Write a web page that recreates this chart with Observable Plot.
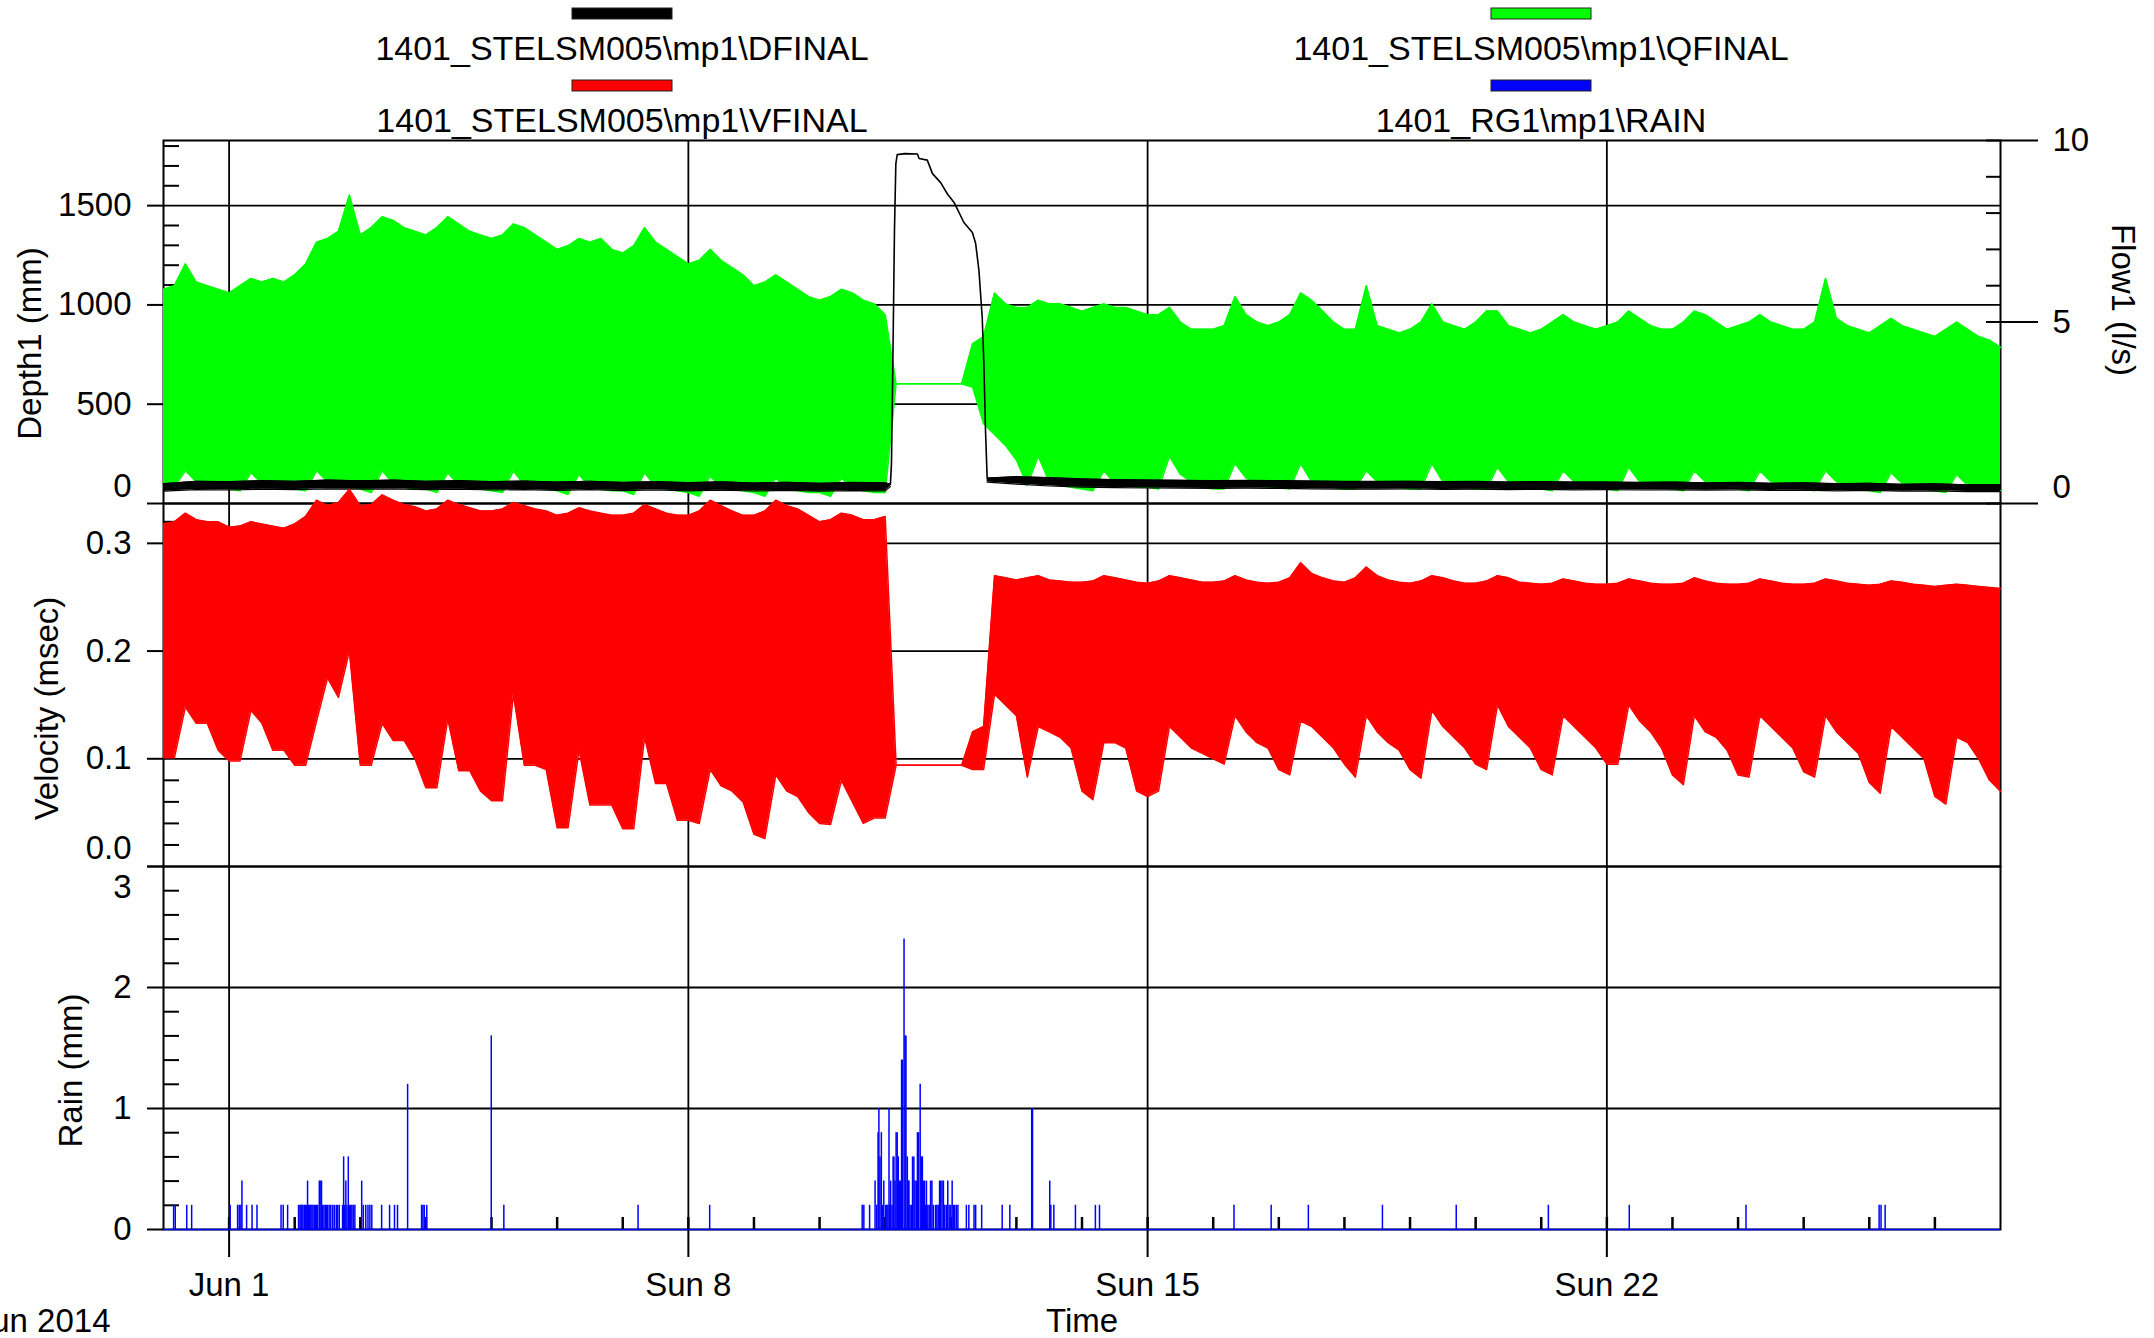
<!DOCTYPE html>
<html>
<head>
<meta charset="utf-8">
<script src="https://cdn.jsdelivr.net/npm/d3@7"></script>
<script src="https://cdn.jsdelivr.net/npm/@observablehq/plot@0.6"></script>
<style>
html, body { margin: 0; padding: 0; background: #fff; }
#chart { position: relative; width: 2154px; height: 1338px; overflow: hidden; background: #fff; }
#chart svg { position: absolute; left: 0; top: 0; overflow: visible; }
</style>
</head>
<body>
<div id="chart"></div>
<script>
// ---------------- DATA ----------------
const legendNames = ["1401_STELSM005\\mp1\\DFINAL", "1401_STELSM005\\mp1\\QFINAL", "1401_STELSM005\\mp1\\VFINAL", "1401_RG1\\mp1\\RAIN"];
const legendColors = ["#000000", "#00ff00", "#ff0000", "#0000ff"];

// x axis: hours since 31 May 2014 00:00
const xTickHours = [24, 192, 360, 528];
const xTickLabels = ["Jun 1", "Sun 8", "Sun 15", "Sun 22"];
const dayTickHours = [24,48,72,96,120,144,168,192,216,240,264,288,312,336,360,384,408,432,456,480,504,528,552,576,600,624,648];

// Sample spacing of the envelope series (hours)
const sampleStep = 4;

// Flow (l/s) upper / lower envelope, one row per day, samples at 0,4,8,12,16,20 h
const flowMax = [
  5.9,6.0,6.6,6.1,6.0,5.9,
  5.8,6.0,6.2,6.1,6.2,6.1,
  6.3,6.6,7.2,7.3,7.5,8.5,
  7.4,7.6,7.9,7.8,7.6,7.5,
  7.4,7.6,7.9,7.7,7.5,7.4,
  7.3,7.4,7.7,7.6,7.4,7.2,
  7.0,7.1,7.3,7.2,7.3,7.0,
  6.9,7.1,7.6,7.2,7.0,6.8,
  6.6,6.7,7.0,6.7,6.5,6.3,
  6.0,6.1,6.3,6.1,5.9,5.7,
  5.6,5.7,5.9,5.8,5.6,5.5,
  5.2,3.3,3.3,3.3,3.3,3.3,
  3.3,3.3,4.4,4.6,5.8,5.5,
  5.4,5.4,5.6,5.5,5.5,5.4,
  5.3,5.4,5.5,5.4,5.4,5.3,
  5.2,5.2,5.4,5.0,4.8,4.8,
  4.8,4.9,5.7,5.2,5.0,4.9,
  5.0,5.2,5.8,5.6,5.3,5.0,
  4.8,4.8,6.0,4.9,4.8,4.7,
  4.8,5.0,5.5,5.0,4.9,4.8,
  5.0,5.3,5.3,4.9,4.8,4.7,
  4.8,5.0,5.2,5.0,4.9,4.8,
  4.9,5.0,5.3,5.1,4.9,4.8,
  4.8,5.0,5.3,5.2,5.0,4.8,
  4.9,5.0,5.2,5.0,4.9,4.8,
  4.8,5.0,6.2,5.1,4.9,4.8,
  4.7,4.9,5.1,4.9,4.8,4.7,
  4.6,4.8,5.0,4.8,4.6,4.5,
  4.3
];
const flowMin = [
  0.5,0.45,0.9,0.6,0.5,0.45,
  0.4,0.35,0.85,0.55,0.45,0.4,
  0.4,0.35,0.9,0.6,0.5,0.6,
  0.4,0.3,0.9,0.55,0.45,0.4,
  0.4,0.3,0.85,0.5,0.45,0.4,
  0.35,0.3,0.9,0.5,0.45,0.4,
  0.35,0.25,0.8,0.45,0.4,0.35,
  0.35,0.25,0.85,0.45,0.4,0.35,
  0.3,0.2,0.75,0.45,0.4,0.35,
  0.3,0.2,0.7,0.4,0.35,0.3,
  0.3,0.2,0.7,0.4,0.35,0.3,
  0.3,3.3,3.3,3.3,3.3,3.3,
  3.3,3.3,3.2,2.2,1.9,1.6,
  1.2,0.5,1.3,0.6,0.5,0.45,
  0.4,0.35,0.9,0.55,0.5,0.45,
  0.45,0.4,1.3,0.8,0.6,0.45,
  0.4,0.4,1.1,0.7,0.55,0.45,
  0.45,0.4,1.1,0.6,0.5,0.45,
  0.4,0.4,0.9,0.6,0.5,0.45,
  0.4,0.4,1.1,0.6,0.5,0.45,
  0.4,0.4,1.0,0.6,0.5,0.45,
  0.4,0.35,0.9,0.6,0.5,0.45,
  0.4,0.35,1.0,0.6,0.5,0.45,
  0.4,0.35,0.9,0.6,0.5,0.45,
  0.4,0.35,0.9,0.6,0.5,0.45,
  0.4,0.35,0.9,0.6,0.5,0.45,
  0.35,0.3,0.85,0.55,0.45,0.4,
  0.35,0.3,0.8,0.5,0.45,0.4,
  0.35
];

// Velocity (m/s) upper / lower envelope
const velMax = [
  0.318,0.32,0.328,0.322,0.32,0.32,
  0.315,0.316,0.32,0.318,0.316,0.314,
  0.318,0.325,0.34,0.335,0.338,0.35,
  0.335,0.336,0.345,0.34,0.336,0.334,
  0.33,0.332,0.34,0.336,0.333,0.33,
  0.33,0.332,0.338,0.335,0.332,0.33,
  0.326,0.328,0.333,0.33,0.328,0.326,
  0.326,0.328,0.336,0.332,0.328,0.326,
  0.326,0.33,0.34,0.335,0.33,0.326,
  0.326,0.33,0.34,0.335,0.332,0.326,
  0.32,0.322,0.328,0.326,0.322,0.322,
  0.325,0.094,0.094,0.094,0.094,0.094,
  0.094,0.094,0.125,0.13,0.27,0.268,
  0.266,0.268,0.27,0.266,0.265,0.264,
  0.264,0.265,0.27,0.268,0.266,0.264,
  0.263,0.265,0.27,0.268,0.266,0.264,
  0.264,0.265,0.27,0.266,0.264,0.263,
  0.264,0.268,0.282,0.272,0.268,0.265,
  0.264,0.268,0.278,0.27,0.266,0.264,
  0.263,0.265,0.27,0.268,0.265,0.263,
  0.263,0.265,0.27,0.268,0.264,0.263,
  0.262,0.263,0.267,0.265,0.263,0.262,
  0.262,0.263,0.267,0.265,0.263,0.262,
  0.262,0.263,0.268,0.265,0.263,0.262,
  0.262,0.263,0.267,0.265,0.263,0.262,
  0.262,0.263,0.267,0.265,0.263,0.262,
  0.261,0.262,0.265,0.264,0.262,0.261,
  0.26,0.261,0.262,0.261,0.26,0.259,
  0.258
];
const velMin = [
  0.101,0.101,0.148,0.133,0.133,0.108,
  0.098,0.098,0.145,0.133,0.108,0.108,
  0.094,0.094,0.135,0.175,0.157,0.2,
  0.094,0.094,0.133,0.117,0.117,0.1,
  0.073,0.073,0.137,0.089,0.089,0.07,
  0.061,0.061,0.16,0.094,0.094,0.09,
  0.036,0.036,0.108,0.057,0.057,0.057,
  0.035,0.035,0.12,0.077,0.077,0.043,
  0.043,0.04,0.09,0.075,0.07,0.06,
  0.03,0.026,0.085,0.07,0.065,0.05,
  0.04,0.039,0.08,0.06,0.04,0.045,
  0.045,0.094,0.094,0.094,0.094,0.094,
  0.094,0.094,0.09,0.09,0.16,0.15,
  0.14,0.083,0.13,0.125,0.12,0.11,
  0.07,0.062,0.115,0.115,0.11,0.07,
  0.065,0.07,0.13,0.12,0.11,0.105,
  0.1,0.095,0.14,0.125,0.115,0.11,
  0.09,0.085,0.135,0.13,0.12,0.11,
  0.095,0.083,0.14,0.125,0.115,0.108,
  0.09,0.082,0.145,0.13,0.12,0.11,
  0.095,0.09,0.15,0.13,0.12,0.11,
  0.09,0.085,0.14,0.13,0.12,0.11,
  0.095,0.095,0.15,0.135,0.125,0.11,
  0.085,0.076,0.14,0.125,0.12,0.108,
  0.085,0.083,0.14,0.13,0.12,0.11,
  0.088,0.083,0.14,0.125,0.115,0.105,
  0.078,0.068,0.13,0.12,0.11,0.1,
  0.065,0.058,0.12,0.115,0.1,0.08,
  0.07
];

// Depth (mm) band: hours, low, high (NaN = gap during the surcharge)
const depthHours = [0,12,24,36,48,60,72,84,96,108,120,132,144,156,168,180,192,204,216,228,240,252,264,265.9,
  283,
  301.3,312,324,336,348,360,372,384,396,408,420,432,444,456,468,480,492,504,516,528,540,552,564,576,588,600,612,624,636,648,660,672];
const depthLo = [62,70,68,72,70,74,72,74,70,72,68,70,66,70,65,68,64,67,63,66,62,65,64,85,
  NaN,
  108,98,88,82,80,78,77,76,77,76,74,72,72,73,71,72,70,71,69,70,68,69,67,68,66,67,64,66,62,64,60,60];
const depthHi = [100,112,110,115,112,118,114,118,112,115,110,113,108,112,106,110,105,109,103,107,102,106,104,98,
  NaN,
  128,135,130,124,120,118,117,115,116,115,113,111,111,112,110,111,108,110,108,108,106,108,104,106,102,104,100,102,97,99,94,94];

// Depth during the surcharge (hours, mm)
const surgeHours = [265.9,266.3,266.8,267.4,267.9,268.4,271.2,275.8,276.4,279.4,281.3,284.3,286.7,289.2,292.8,295.9,297.1,298.3,299.5,300.1,300.7,301.3];
const surgeDepth = [95,201,703,1375,1710,1757,1762,1760,1737,1729,1661,1616,1560,1516,1415,1365,1309,1173,937,705,368,131];

// Rain (mm) tips: hours and depth
const rainHours = [3.7,4.3,8.5,10.3,24.4,27.1,27.7,28.3,28.7,30.4,32.4,34.2,43.0,43.8,45.4,
  49.4,49.9,50.3,50.6,51.0,51.5,51.9,52.2,52.7,53.1,53.4,53.9,54.3,54.7,55.2,55.6,56.0,56.4,57.0,57.3,57.8,58.2,58.7,59.2,59.7,60.0,60.6,61.2,61.9,62.5,63.2,63.7,64.3,65.5,65.9,66.2,66.7,67.1,67.6,68.0,68.4,68.9,69.4,70.0,
  72.5,73.1,74.0,74.8,75.5,76.2,79.8,82.7,84.5,85.6,89.3,94.4,94.9,95.4,96.3,119.9,124.5,173.6,199.8,
  255.6,256.2,258.3,260.3,260.9,261.4,261.7,262.1,262.6,263.1,263.5,264.2,264.6,265.0,265.4,265.7,266.0,266.5,266.9,267.2,267.6,268.0,268.4,268.8,269.2,269.6,
  270.0,270.3,270.9,271.3,271.6,272.1,272.4,272.7,273.1,273.6,274.0,274.5,274.9,275.4,275.8,276.2,276.8,277.2,277.6,278.0,278.4,278.8,279.1,279.6,
  280.1,280.6,281.1,281.6,282.4,282.9,283.4,283.9,284.3,284.8,285.3,285.8,286.4,286.9,287.4,288.0,288.5,289.0,289.4,290.0,290.6,
  293.7,294.6,296.5,297.1,299.3,306.8,309.6,317.6,317.9,324.2,324.6,325.7,333.6,340.9,342.4,
  391.6,405.2,418.8,445.9,472.9,506.6,536.2,578.9,627.6,628.3,629.8];
const rainMM = [0.2,0.2,0.2,0.2,0.2,0.2,0.2,0.2,0.4,0.2,0.2,0.2,0.2,0.2,0.2,
  0.2,0.2,0.2,0.2,0.2,0.2,0.2,0.2,0.4,0.2,0.2,0.2,0.2,0.2,0.2,0.2,0.2,0.2,0.4,0.4,0.4,0.2,0.2,0.2,0.2,0.2,0.2,0.2,0.2,0.2,0.2,0.2,0.2,0.2,0.6,0.2,0.4,0.2,0.6,0.2,0.2,0.2,0.2,0.2,
  0.4,0.2,0.2,0.2,0.2,0.2,0.2,0.2,0.2,0.2,1.2,0.2,0.2,0.2,0.2,1.6,0.2,0.2,0.2,
  0.2,0.2,0.2,0.4,0.2,0.8,1.0,0.6,0.8,0.2,0.4,0.2,0.2,0.2,1.0,0.2,0.4,0.2,0.6,0.6,0.4,0.8,0.8,0.6,0.4,0.4,
  1.4,1.4,2.4,1.6,1.6,0.6,0.4,0.4,0.2,0.2,0.6,0.6,0.4,0.4,0.8,0.8,1.2,0.6,0.6,0.4,0.4,0.2,0.4,0.2,
  0.2,0.4,0.4,0.2,0.2,0.2,0.2,0.4,0.4,0.4,0.4,0.2,0.2,0.4,0.2,0.2,0.4,0.2,0.2,0.2,0.2,
  0.2,0.2,0.2,0.2,0.2,0.2,0.2,1.0,1.0,0.4,0.2,0.2,0.2,0.2,0.2,
  0.2,0.2,0.2,0.2,0.2,0.2,0.2,0.2,0.2,0.2,0.2];

// Axis ticks
const depthMajor = [0, 500, 1000, 1500];
const depthMinor = [100,200,300,400,600,700,800,900,1100,1200,1300,1400,1600,1700,1800];
const flowMajor = [0, 5, 10];
const flowAll = [0,1,2,3,4,5,6,7,8,9,10];
const velMajor = [0, 0.1, 0.2, 0.3];
const velMinor = [0.02,0.04,0.06,0.08,0.12,0.14,0.16,0.18,0.22,0.24,0.26,0.28,0.32];
const rainMajor = [0, 1, 2, 3];
const rainMinor = [0.2,0.4,0.6,0.8,1.2,1.4,1.6,1.8,2.2,2.4,2.6,2.8];

// ---------------- BUILD ----------------
const FONT = "'Liberation Sans', Arial, Helvetica, sans-serif";
const W = 2154, H = 1338, LEFT = 163, RIGHT = 2000;
const TOP1 = 140, BOT1 = 503, BOT2 = 866, BOT3 = 1229;
const t0 = Date.UTC(2014, 4, 31), HOUR = 3600e3;
const toDate = h => new Date(t0 + h * HOUR);
const xDomain = [toDate(0), toDate(672)];

const sampleTimes = flowMax.map((_, i) => toDate(i * sampleStep));
const flowRows = sampleTimes.map((t, i) => ({t, lo: flowMin[i], hi: flowMax[i]}));
const velRows = sampleTimes.map((t, i) => ({t, lo: velMin[i], hi: velMax[i]}));
const depthRows = depthHours.map((h, i) => ({t: toDate(h), lo: depthLo[i], hi: depthHi[i]}));
const surgeRows = surgeHours.map((h, i) => ({t: toDate(h), d: surgeDepth[i]}));
const rainRows = rainHours.map((h, i) => ({t: toDate(h), mm: rainMM[i]}));
const xMajorDates = xTickHours.map(toDate);
const xDayDates = dayTickHours.map(toDate);
const xTicks = xTickHours.map((h, i) => ({date: toDate(h), label: xTickLabels[i]}));

function base(top, bottom, ydomain) {
  return {
    width: W, height: H,
    marginLeft: LEFT, marginRight: W - RIGHT, marginTop: top, marginBottom: H - bottom,
    style: {background: "transparent", fontFamily: FONT, fontSize: "33px", color: "#000", overflow: "visible"},
    x: {type: "utc", domain: xDomain, axis: null},
    y: {domain: ydomain, axis: null}
  };
}
const G = {stroke: "#000", strokeWidth: 1.8};
const TK = {text: null, label: null, strokeWidth: 2};
const LB = {tickSize: 0, label: null, fontSize: 33};
const TT = {fontSize: 33, textAnchor: "middle"};

const chart = document.getElementById("chart");

// Legend
const leg = d3.select(chart).append("svg").attr("width", W).attr("height", 140)
  .style("font-family", FONT);
const colX = [622, 1541], rowSwatch = [8, 80], rowBase = [60, 132];
legendNames.forEach((name, i) => {
  const c = i % 2, r = Math.floor(i / 2);
  leg.append("rect").attr("x", colX[c] - 50).attr("y", rowSwatch[r]).attr("width", 100).attr("height", 11)
    .attr("fill", legendColors[i]).attr("stroke", "#222").attr("stroke-width", 1);
  leg.append("text").attr("x", colX[c]).attr("y", rowBase[r]).attr("text-anchor", "middle")
    .attr("font-size", 34).attr("fill", "#000").text(name);
});

// Top panel, layer A: grid and depth ticks (behind data)
chart.append(Plot.plot({...base(TOP1, BOT1, [0, 1828]), marks: [
  Plot.frame({stroke: "#000", strokeWidth: 2}),
  Plot.ruleY(depthMajor.slice(1), G),
  Plot.ruleX(xMajorDates, G),
  Plot.axisY({anchor: "left", ticks: depthMajor, tickSize: 16, ...TK}),
  Plot.axisY({anchor: "left", ticks: depthMinor, tickSize: 16, dx: 16, ...TK})
]}));

// Top panel, layer B: flow (right axis)
chart.append(Plot.plot({...base(TOP1, BOT1, [0, 10]), marks: [
  Plot.axisY({anchor: "right", ticks: flowMajor, tickSize: 37, ...TK}),
  Plot.axisY({anchor: "right", ticks: flowAll, tickSize: 15, dx: -15, ...TK}),
  Plot.areaY(flowRows, {x: "t", y1: "lo", y2: "hi", fill: "#00ff00"}),
  Plot.lineY(flowRows, {x: "t", y: "hi", stroke: "#00ff00", strokeWidth: 1.5}),
  Plot.lineY(flowRows, {x: "t", y: "lo", stroke: "#00ff00", strokeWidth: 1.5}),
  Plot.axisY({anchor: "right", ticks: [5, 10], tickPadding: 52, ...LB}),
  Plot.axisY({anchor: "right", ticks: [0], tickPadding: 52, dy: -16, ...LB}),
  Plot.text(["Flow1 (l/s)"], {frameAnchor: "right", dx: 122, dy: -22, rotate: 90, ...TT})
]}));

// Top panel, layer C: depth
chart.append(Plot.plot({...base(TOP1, BOT1, [0, 1828]), marks: [
  Plot.areaY(depthRows, {x: "t", y1: "lo", y2: "hi", fill: "#000"}),
  Plot.lineY(depthRows, {x: "t", y: "hi", stroke: "#000", strokeWidth: 1.2}),
  Plot.lineY(depthRows, {x: "t", y: "lo", stroke: "#000", strokeWidth: 1.2}),
  Plot.lineY(surgeRows, {x: "t", y: "d", stroke: "#000", strokeWidth: 1.6}),
  Plot.axisY({anchor: "left", ticks: [500, 1000, 1500], tickPadding: 32, tickFormat: d3.format("d"), ...LB}),
  Plot.axisY({anchor: "left", ticks: [0], tickPadding: 32, dy: -17, tickFormat: d3.format("d"), ...LB}),
  Plot.text(["Depth1 (mm)"], {frameAnchor: "left", dx: -133, dy: 21.5, rotate: -90, ...TT})
]}));

// Velocity panel
chart.append(Plot.plot({...base(BOT1, BOT2, [0, 0.337]), marks: [
  Plot.frame({stroke: "#000", strokeWidth: 2}),
  Plot.ruleY(velMajor.slice(1), G),
  Plot.ruleX(xMajorDates, G),
  Plot.axisY({anchor: "left", ticks: velMajor, tickSize: 16, ...TK}),
  Plot.axisY({anchor: "left", ticks: velMinor, tickSize: 16, dx: 16, ...TK}),
  Plot.areaY(velRows, {x: "t", y1: "lo", y2: "hi", fill: "#ff0000"}),
  Plot.lineY(velRows, {x: "t", y: "hi", stroke: "#ff0000", strokeWidth: 1.5}),
  Plot.lineY(velRows, {x: "t", y: "lo", stroke: "#ff0000", strokeWidth: 1.5}),
  Plot.axisY({anchor: "left", ticks: [0.1, 0.2, 0.3], tickPadding: 32, tickFormat: d3.format(".1f"), ...LB}),
  Plot.axisY({anchor: "left", ticks: [0], tickPadding: 32, dy: -18, tickFormat: d3.format(".1f"), ...LB}),
  Plot.text(["Velocity (msec)"], {frameAnchor: "left", dx: -116, dy: 23.5, rotate: -90, ...TT})
]}));

// Rain panel
chart.append(Plot.plot({...base(BOT2, BOT3, [0, 3]), marks: [
  Plot.frame({stroke: "#000", strokeWidth: 2}),
  Plot.ruleY([1, 2], G),
  Plot.ruleX(xMajorDates, G),
  Plot.axisY({anchor: "left", ticks: rainMajor, tickSize: 16, ...TK}),
  Plot.axisY({anchor: "left", ticks: rainMinor, tickSize: 16, dx: 16, ...TK}),
  Plot.axisX({anchor: "bottom", ticks: xMajorDates, tickSize: 28, ...TK}),
  Plot.axisX({anchor: "bottom", ticks: xDayDates, tickSize: 12, dy: -12, text: null, label: null, strokeWidth: 2.5}),
  Plot.ruleX(rainRows, {x: "t", y1: 0, y2: "mm", stroke: "#0000ff", strokeWidth: 1.5}),
  Plot.ruleY([0], {stroke: "#0000ff", strokeWidth: 1.5}),
  Plot.axisY({anchor: "left", ticks: [0, 1, 2], tickPadding: 32, tickFormat: d3.format("d"), ...LB}),
  Plot.axisY({anchor: "left", ticks: [3], tickPadding: 32, dy: 21, tickFormat: d3.format("d"), ...LB}),
  Plot.text(xTicks, {x: "date", text: "label", frameAnchor: "bottom", dy: 66, fontSize: 33}),
  Plot.text(["Time"], {frameAnchor: "bottom", dy: 102, fontSize: 33}),
  Plot.text(["Jun 2014"], {frameAnchor: "bottom-left", dx: -53, dy: 102, textAnchor: "end", fontSize: 33}),
  Plot.text(["Rain (mm)"], {frameAnchor: "left", dx: -92, dy: 22.5, rotate: -90, ...TT})
]}));
</script>
</body>
</html>
